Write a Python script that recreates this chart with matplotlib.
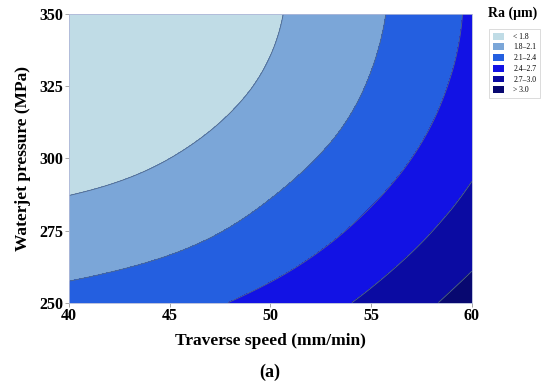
import numpy as np
import matplotlib
matplotlib.use("Agg")
import matplotlib.pyplot as plt
import matplotlib.tri as mtri
from matplotlib.patches import Patch

# Ra values (rows: pressure, cols: traverse speed)
speed = [40, 45, 50, 55, 60]
pressure = [250, 275, 300, 325, 350]
ra = [
    [2.19, 2.30, 2.49, 2.76, 3.13],
    [1.91, 2.01, 2.20, 2.48, 2.85],
    [1.70, 1.80, 1.99, 2.26, 2.64],
    [1.56, 1.65, 1.84, 2.12, 2.50],
    [1.49, 1.58, 1.77, 2.05, 2.44],
]
levels = [1.0, 1.8, 2.1, 2.4, 2.7, 3.0, 4.0]
labels = ["< 1.8", "1.8\u20132.1", "2.1\u20132.4", "2.4\u20132.7", "2.7\u20133.0", "> 3.0"]
colors = ["#c0dce6", "#7ba6d8", "#245fe0", "#1212e4", "#0b0ba2", "#080870"]

plt.rcParams["font.family"] = ["Liberation Serif", "DejaVu Serif"]

X, Y = np.meshgrid(speed, pressure)
tri = mtri.Triangulation(X.ravel(), Y.ravel())
interp = mtri.CubicTriInterpolator(tri, np.array(ra).ravel(), kind="min_E")
refiner = mtri.UniformTriRefiner(tri)
tri_f, z_f = refiner.refine_field(np.array(ra).ravel(), triinterpolator=interp, subdiv=5)

fig = plt.figure(figsize=(5.5, 3.86), dpi=100)
ax = fig.add_axes([0.1255, 0.216, 0.7325, 0.747])
ax.tricontourf(tri_f, z_f, levels=levels, colors=colors)
ax.tricontour(tri_f, z_f, levels=levels[1:-1], colors="#50688a", linewidths=0.6)

ax.set_xlim(40, 60)
ax.set_ylim(250, 350)
ax.set_xticks([40, 45, 50, 55, 60])
ax.set_yticks([250, 275, 300, 325, 350])
for lab in ax.get_xticklabels() + ax.get_yticklabels():
    lab.set_fontweight("bold")
    lab.set_fontsize(11.5)
ax.tick_params(length=3, width=0.6, color="#999999", pad=1)
for s in ax.spines.values():
    s.set_color("#b0b8d8")
    s.set_linewidth(0.6)

ax.set_xlabel("Traverse speed (mm/min)", fontsize=12.5, fontweight="bold", labelpad=6)
ax.set_ylabel("Waterjet pressure (MPa)", fontsize=12.5, fontweight="bold", labelpad=6)

fig.text(0.491, 0.036, "(a)", fontsize=13, fontweight="bold", ha="center", va="center")
fig.text(0.932, 0.965, "Ra (\u03bcm)", fontsize=10, fontweight="bold", ha="center", va="center")

handles = [Patch(facecolor=c, edgecolor="none") for c in colors]
leg = fig.legend(handles, labels, loc="upper left", bbox_to_anchor=(0.883, 0.935),
                 fontsize=5.5, frameon=True, handlelength=1.4, handleheight=1.0,
                 handletextpad=1.2, labelspacing=0.35, borderpad=0.5, fancybox=False)
leg.get_frame().set_edgecolor("#cccccc")
leg.get_frame().set_linewidth(0.6)

fig.savefig("out.png", dpi=100)
